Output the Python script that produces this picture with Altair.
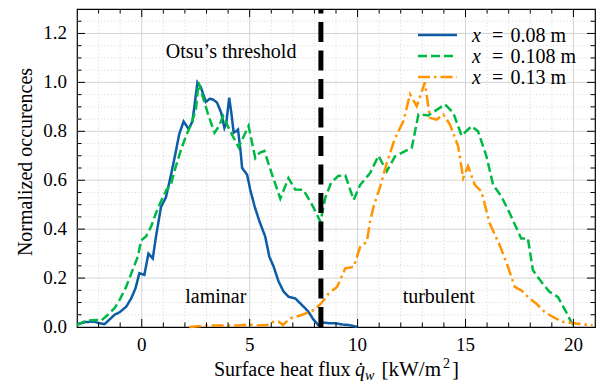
import altair as alt
import pandas as pd

FONT = "Liberation Serif"

# ---------------- data ----------------
x_008 = [-3.0, -2.6, -2.2, -1.95, -1.72, -1.5, -1.26, -1.03, -0.72, -0.49,
         -0.29, -0.11, 0.12, 0.31, 0.51, 0.66, 0.89, 1.12, 1.35, 1.54,
         1.74, 1.94, 2.17, 2.35, 2.58, 2.74, 2.97, 3.15, 3.3, 3.49,
         3.68, 3.83, 3.92, 4.05, 4.15, 4.26, 4.37, 4.46, 4.57, 4.65,
         4.88, 5.03, 5.23, 5.46, 5.72, 5.91, 6.11, 6.34, 6.57, 6.8,
         7.11, 7.42, 7.72, 7.95, 8.18, 8.42, 8.7, 9.0, 9.3, 9.6, 10.0]
y_008 = [0.012, 0.02, 0.022, 0.015, 0.012, 0.03, 0.05, 0.06, 0.083, 0.117,
         0.158, 0.22, 0.213, 0.30, 0.28, 0.37, 0.49, 0.53, 0.62, 0.70,
         0.79, 0.84, 0.81, 0.84, 1.0, 0.98, 0.92, 0.933, 0.93, 0.917,
         0.876, 0.814, 0.835, 0.937, 0.876, 0.794, 0.80, 0.807, 0.725, 0.65,
         0.623, 0.56, 0.493, 0.43, 0.37, 0.288, 0.247, 0.186, 0.145, 0.124,
         0.117, 0.09, 0.063, 0.031, 0.008, 0.018, 0.015, 0.015, 0.01, 0.008, 0.0]

x_0108 = [-3.0, -2.57, -2.1, -1.88, -1.57, -1.26, -1.03, -0.72, -0.42, -0.18,
          -0.03, 0.2, 0.43, 0.66, 0.89, 1.15, 1.35, 1.58, 1.82, 2.05,
          2.28, 2.51, 2.63, 2.82, 3.05, 3.37, 3.57, 3.77, 4.1, 4.49,
          4.95, 5.26, 5.46, 5.68, 6.05, 6.42, 6.8, 7.11, 7.49, 7.95,
          8.28, 8.5, 8.77, 9.1, 9.43, 9.82, 10.12, 10.58, 10.97, 11.35,
          11.74, 12.51, 12.82, 13.28, 14.05, 14.43, 14.82, 15.28, 15.58, 15.97,
          16.28, 16.66, 17.05, 17.58, 17.89, 18.12, 18.51, 18.89, 19.28, 19.66,
          19.89, 20.1]
y_0108 = [0.008, 0.026, 0.029, 0.026, 0.05, 0.077, 0.11, 0.165, 0.234, 0.288,
          0.354, 0.37, 0.41, 0.466, 0.514, 0.561, 0.582, 0.657, 0.725, 0.78,
          0.828, 0.889, 1.0, 0.944, 0.876, 0.794, 0.82, 0.862, 0.80, 0.735,
          0.822, 0.69, 0.712, 0.72, 0.62, 0.525, 0.609, 0.562, 0.561, 0.49,
          0.43, 0.527, 0.589, 0.617, 0.62, 0.52, 0.581, 0.629, 0.70, 0.636,
          0.698, 0.732, 0.869, 0.865, 0.91, 0.876, 0.782, 0.821, 0.80, 0.698,
          0.581, 0.534, 0.465, 0.362, 0.362, 0.233, 0.185, 0.144, 0.123, 0.062,
          0.021, 0.0]

x_013 = [2.2, 3.1, 3.9, 4.5, 4.95, 5.4, 5.8, 6.02, 6.34, 6.54,
         6.88, 7.34, 7.8, 7.97, 8.31, 8.66, 9.05, 9.43, 9.82, 10.12,
         10.43, 10.58, 10.74, 11.05, 11.35, 11.74, 12.12, 12.43, 12.74, 13.12,
         13.35, 13.66, 13.97, 14.28, 14.66, 14.89, 15.12, 15.43, 15.74, 16.12,
         16.58, 16.97, 17.28, 17.58, 17.97, 18.28, 18.66, 19.05, 19.51, 20.12,
         20.89]
y_013 = [0.0, 0.006, 0.006, 0.006, 0.01, 0.006, 0.008, 0.02, 0.022, 0.008,
         0.036, 0.047, 0.062, 0.07, 0.096, 0.137, 0.164, 0.24, 0.246, 0.328,
         0.349, 0.431, 0.492, 0.575, 0.67, 0.773, 0.841, 0.951, 0.903, 1.0,
         0.855, 0.848, 0.869, 0.828, 0.739, 0.609, 0.657, 0.581, 0.554, 0.424,
         0.335, 0.246, 0.164, 0.15, 0.116, 0.096, 0.062, 0.041, 0.021, 0.014,
         0.007]

series_labels = ["0.08 m", "0.108 m", "0.13 m"]
series_colors = ["#0C5DA5", "#00B945", "#FF9500"]
series_dashes = [[1, 0], [9, 4], [12, 4, 2.5, 4]]

threshold_x = [8.3]

annot_text = ["Otsu\u2019s threshold", "laminar", "turbulent"]
annot_x = [4.14, 3.43, 13.76]
annot_y = [1.1, 0.098, 0.1]

x_major = [0, 5, 10, 15, 20]
x_major_labels = ["0", "5", "10", "15", "20"]
x_minor = [i for i in range(-2, 21) if i % 5 != 0]
y_major = [0.0, 0.2, 0.4, 0.6, 0.8, 1.0, 1.2]
y_major_labels = ["0.0", "0.2", "0.4", "0.6", "0.8", "1.0", "1.2"]
y_minor = [round(0.05 * k, 2) for k in range(1, 26) if k % 4 != 0]

y_title = "Normalized occurences"

# ---------------- layout ----------------
W, H = 518, 318
xs = alt.Scale(domain=[-3, 21], nice=False, zero=False)
ys = alt.Scale(domain=[0, 1.3], nice=False, zero=False)

curves = pd.concat([
    pd.DataFrame({"x": x_008, "y": y_008, "series": series_labels[0]}),
    pd.DataFrame({"x": x_0108, "y": y_0108, "series": series_labels[1]}),
    pd.DataFrame({"x": x_013, "y": y_013, "series": series_labels[2]}),
], ignore_index=True)

layers = []

# minor gridlines (dotted)
layers.append(alt.Chart(pd.DataFrame({"v": x_minor})).mark_rule(
    color="#d9d9d9", strokeDash=[1.2, 2.2], strokeWidth=0.9).encode(
    x=alt.X("v:Q", scale=xs, axis=None), y=alt.value(0), y2=alt.value(H)))
layers.append(alt.Chart(pd.DataFrame({"v": y_minor})).mark_rule(
    color="#d9d9d9", strokeDash=[1.2, 2.2], strokeWidth=0.9).encode(
    y=alt.Y("v:Q", scale=ys, axis=None), x=alt.value(0), x2=alt.value(W)))
# major gridlines
layers.append(alt.Chart(pd.DataFrame({"v": x_major})).mark_rule(
    color="#d4d4d4", strokeWidth=1).encode(
    x=alt.X("v:Q", scale=xs, axis=None), y=alt.value(0), y2=alt.value(H)))
layers.append(alt.Chart(pd.DataFrame({"v": y_major[1:]})).mark_rule(
    color="#d4d4d4", strokeWidth=1).encode(
    y=alt.Y("v:Q", scale=ys, axis=None), x=alt.value(0), x2=alt.value(W)))

# curves
layers.append(alt.Chart(curves).mark_line(strokeWidth=2.5).encode(
    x=alt.X("x:Q", scale=xs, axis=None),
    y=alt.Y("y:Q", scale=ys, axis=None),
    color=alt.Color("series:N", scale=alt.Scale(domain=series_labels, range=series_colors), legend=None),
    strokeDash=alt.StrokeDash("series:N", scale=alt.Scale(domain=series_labels, range=series_dashes), legend=None),
    order=alt.Order("x:Q"),
))

# threshold
layers.append(alt.Chart(pd.DataFrame({"t": threshold_x, "y0": [0.0], "y1": [1.3]})).mark_rule(
    color="black", strokeWidth=5, strokeDash=[20, 8.5]).encode(
    x=alt.X("t:Q", scale=xs, axis=None),
    y=alt.Y("y0:Q", scale=ys, axis=None), y2="y1:Q"))

# annotations
layers.append(alt.Chart(pd.DataFrame({"x": annot_x, "y": annot_y, "t": annot_text})).mark_text(
    font=FONT, fontSize=20, color="black", align="center", baseline="alphabetic").encode(
    x=alt.X("x:Q", scale=xs, axis=None), y=alt.Y("y:Q", scale=ys, axis=None), text="t:N"))

# inward ticks on all four sides
for vals, L in ((x_major, 8), (x_minor, 4.5)):
    df = pd.DataFrame({"v": vals})
    layers.append(alt.Chart(df).mark_rule(color="black", strokeWidth=1).encode(
        x=alt.X("v:Q", scale=xs, axis=None), y=alt.value(H), y2=alt.value(H - L)))
    layers.append(alt.Chart(df).mark_rule(color="black", strokeWidth=1).encode(
        x=alt.X("v:Q", scale=xs, axis=None), y=alt.value(0), y2=alt.value(L)))
for vals, L in ((y_major[1:], 8), (y_minor, 4.5)):
    df = pd.DataFrame({"v": vals})
    layers.append(alt.Chart(df).mark_rule(color="black", strokeWidth=1).encode(
        y=alt.Y("v:Q", scale=ys, axis=None), x=alt.value(0), x2=alt.value(L)))
    layers.append(alt.Chart(df).mark_rule(color="black", strokeWidth=1).encode(
        y=alt.Y("v:Q", scale=ys, axis=None), x=alt.value(W), x2=alt.value(W - L)))

# tick labels
layers.append(alt.Chart(pd.DataFrame({"v": x_major, "t": x_major_labels})).mark_text(
    font=FONT, fontSize=19, color="black", align="center", baseline="alphabetic").encode(
    x=alt.X("v:Q", scale=xs, axis=None), y=alt.value(342), text="t:N"))
layers.append(alt.Chart(pd.DataFrame({"v": y_major, "t": y_major_labels})).mark_text(
    font=FONT, fontSize=19, color="black", align="right", baseline="middle").encode(
    y=alt.Y("v:Q", scale=ys, axis=None), x=alt.value(-10), text="t:N"))

one = pd.DataFrame({"a": [0]})

# y-axis title
layers.append(alt.Chart(one).mark_text(
    font=FONT, fontSize=20, color="black", align="center", baseline="alphabetic", angle=270).encode(
    x=alt.value(-45), y=alt.value(153), text=alt.value(y_title)))

# legend (manual, to get italic x)
leg_y = [26, 47, 68]
for lab, col, dash, yy in zip(series_labels, series_colors, series_dashes, leg_y):
    layers.append(alt.Chart(one).mark_rule(color=col, strokeWidth=2.5, strokeDash=dash).encode(
        x=alt.value(341), x2=alt.value(380), y=alt.value(yy)))
    layers.append(alt.Chart(one).mark_text(font=FONT, fontSize=20, fontStyle="italic", align="left",
                                           baseline="middle", color="black").encode(
        x=alt.value(395), y=alt.value(yy + 1), text=alt.value("x")))
    layers.append(alt.Chart(one).mark_text(font=FONT, fontSize=20, align="left",
                                           baseline="middle", color="black").encode(
        x=alt.value(415), y=alt.value(yy + 1), text=alt.value("=")))
    layers.append(alt.Chart(one).mark_text(font=FONT, fontSize=20, align="left",
                                           baseline="middle", color="black").encode(
        x=alt.value(433.5), y=alt.value(yy + 1), text=alt.value(lab)))

# x-axis title built from pieces (q-dot with subscript w)
TY = 367
layers.append(alt.Chart(one).mark_text(font=FONT, fontSize=20, align="right", baseline="alphabetic",
                                       color="black").encode(
    x=alt.value(273.5), y=alt.value(TY), text=alt.value("Surface heat flux")))
layers.append(alt.Chart(one).mark_text(font=FONT, fontSize=20, fontStyle="italic", align="left",
                                       baseline="alphabetic", color="black").encode(
    x=alt.value(278), y=alt.value(TY), text=alt.value("q\u0307")))
layers.append(alt.Chart(one).mark_text(font=FONT, fontSize=14, fontStyle="italic", align="left",
                                       baseline="alphabetic", color="black").encode(
    x=alt.value(288), y=alt.value(TY + 3.5), text=alt.value("w")))
layers.append(alt.Chart(one).mark_text(font=FONT, fontSize=21, align="left", baseline="alphabetic",
                                       color="black").encode(
    x=alt.value(304.5), y=alt.value(TY), text=alt.value("[kW/m")))
layers.append(alt.Chart(one).mark_text(font=FONT, fontSize=14, align="left", baseline="alphabetic",
                                       color="black").encode(
    x=alt.value(366), y=alt.value(TY - 8), text=alt.value("2")))
layers.append(alt.Chart(one).mark_text(font=FONT, fontSize=21, align="left", baseline="alphabetic",
                                       color="black").encode(
    x=alt.value(375), y=alt.value(TY), text=alt.value("]")))

chart = alt.layer(*layers).properties(
    width=W, height=H,
    padding={"left": 77, "top": 9, "right": 5, "bottom": 61},
    autosize=alt.AutoSizeParams(type="none"),
    background="white",
).configure_view(stroke="black", strokeWidth=1.2)

chart.save("out.html", embed_options={"renderer": "svg", "actions": False})
